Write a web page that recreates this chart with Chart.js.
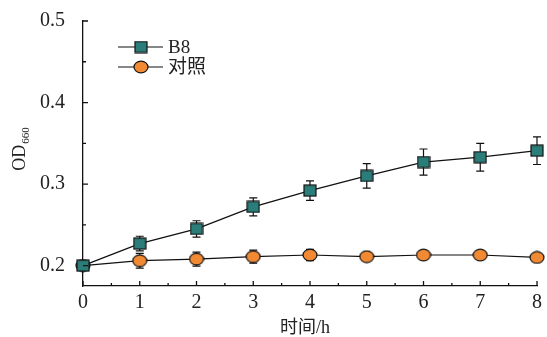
<!DOCTYPE html>
<html><head><meta charset="utf-8">
<script src="https://cdn.jsdelivr.net/npm/chart.js@4.4.1/dist/chart.umd.min.js"></script>
<style>html,body{margin:0;padding:0;background:#fff}#wrap{width:547px;height:337px}</style>
</head><body><div id="wrap"><canvas id="c"></canvas></div>
<script>
const times = [0,1,2,3,4,5,6,7,8];
const b8 = [0.200,0.227,0.245,0.272,0.292,0.310,0.327,0.333,0.341];
const b8Err = [0.003,0.009,0.010,0.011,0.012,0.015,0.016,0.017,0.017];
const ctrl = [0.200,0.206,0.208,0.211,0.213,0.211,0.213,0.213,0.210];
const ctrlErr = [0.003,0.009,0.0086,0.008,0.007,0.004,0.004,0.004,0.004];
const seriesNames = ['B8','对照'];
const xTickLabels = ['0','1','2','3','4','5','6','7','8'];
const yTickValues = [0.2,0.3,0.4,0.5];
const yTickLabels = ['0.2','0.3','0.4','0.5'];
const yMinorValues = [0.25,0.35,0.45];
const xMinorValues = [0.5,1.5,2.5,3.5,4.5,5.5,6.5,7.5];
const xTitle = '时间/h';
const yTitleMain = 'OD', yTitleSub = '660';

const TEAL = '#2a7d79', ORANGE = '#f28a33';
const SERIF = '"Liberation Serif","DejaVu Serif",serif';
const CJK = '"Liberation Serif","Noto Sans CJK SC",serif';

function makeSquare(){
  const c=document.createElement('canvas');c.width=14;c.height=13;
  const g=c.getContext('2d');g.fillStyle=TEAL;g.strokeStyle='#111';g.lineWidth=1.2;
  g.fillRect(1,1,12,11);g.strokeRect(1,1,12,11);return c;
}
function makeEllipse(){
  const c=document.createElement('canvas');c.width=16;c.height=14;
  const g=c.getContext('2d');g.fillStyle=ORANGE;g.strokeStyle='#111';g.lineWidth=1.2;
  g.beginPath();g.ellipse(8,7,7,5.8,0,0,Math.PI*2);g.fill();g.stroke();return c;
}
const sq=makeSquare(), el=makeEllipse();

const errPlugin={id:'err',beforeDatasetsDraw(chart){
  const {ctx,scales:{x,y}}=chart;
  ctx.save();ctx.strokeStyle='#111';ctx.lineWidth=1.2;
  [[b8,b8Err],[ctrl,ctrlErr]].forEach(([vals,errs])=>{
    vals.forEach((v,i)=>{
      const px=x.getPixelForValue(times[i]);
      const t=y.getPixelForValue(v+errs[i]), b=y.getPixelForValue(v-errs[i]);
      ctx.beginPath();ctx.moveTo(px,t);ctx.lineTo(px,b);
      ctx.moveTo(px-4,t);ctx.lineTo(px+4,t);ctx.moveTo(px-4,b);ctx.lineTo(px+4,b);ctx.stroke();
    });
  });
  ctx.restore();
}};
const decoPlugin={id:'deco',afterDraw(chart){
  const {ctx,scales:{x,y},chartArea:a}=chart;
  ctx.save();ctx.strokeStyle='#111';ctx.lineWidth=1.3;
  ctx.beginPath();
  yTickValues.forEach(v=>{const p=y.getPixelForValue(v);ctx.moveTo(a.left,p);ctx.lineTo(a.left+5,p);});
  yMinorValues.forEach(v=>{const p=y.getPixelForValue(v);ctx.moveTo(a.left,p);ctx.lineTo(a.left+3,p);});
  times.forEach(v=>{const p=x.getPixelForValue(v);ctx.moveTo(p,a.bottom);ctx.lineTo(p,a.bottom-5);});
  xMinorValues.forEach(v=>{const p=x.getPixelForValue(v);ctx.moveTo(p,a.bottom);ctx.lineTo(p,a.bottom-3);});
  ctx.stroke();
  // legend
  ctx.lineWidth=1.2;ctx.fillStyle='#222';ctx.textBaseline='middle';ctx.textAlign='left';
  [[47,sq],[67,el]].forEach(([yy,img],i)=>{
    ctx.beginPath();ctx.moveTo(118,yy);ctx.lineTo(163,yy);ctx.stroke();
    ctx.drawImage(img,141-img.width/2,yy-img.height/2);
    ctx.font='19px '+CJK;
    ctx.fillText(seriesNames[i],168,yy+1);
  });
  // titles
  ctx.font='18px '+CJK;ctx.textAlign='center';ctx.textBaseline='alphabetic';
  ctx.fillText(xTitle,305,333);
  ctx.translate(25,149);ctx.rotate(-Math.PI/2);
  ctx.textAlign='left';
  ctx.font='18px '+SERIF;const w=ctx.measureText(yTitleMain).width;
  ctx.font='11px '+SERIF;const sw=ctx.measureText(yTitleSub).width;
  const start=-(w+sw+1)/2;
  ctx.font='18px '+SERIF;ctx.fillText(yTitleMain,start,0);
  ctx.font='11px '+SERIF;ctx.fillText(yTitleSub,start+w+1,4);
  ctx.restore();
}};

new Chart(document.getElementById('c'),{
  type:'line',
  data:{datasets:[
    {label:seriesNames[0],data:times.map((t,i)=>({x:t,y:b8[i]})),borderColor:'#111',borderWidth:1.2,pointStyle:sq,pointRadius:7,tension:0},
    {label:seriesNames[1],data:times.map((t,i)=>({x:t,y:ctrl[i]})),borderColor:'#111',borderWidth:1.2,pointStyle:el,pointRadius:7,tension:0}
  ]},
  options:{
    responsive:true,maintainAspectRatio:false,animation:false,
    layout:{padding:{top:21,right:7,left:0,bottom:0}},
    clip:false,
    plugins:{legend:{display:false},tooltip:{enabled:false}},
    scales:{
      x:{type:'linear',min:0,max:8,
        afterBuildTicks:s=>{s.ticks=times.map(v=>({value:v}));},
        afterFit:s=>{s.height=51;},
        grid:{display:false,drawTicks:false},border:{display:true,color:'#111',width:1.3},
        ticks:{color:'#222',font:{family:SERIF,size:20},padding:5,autoSkip:false,maxRotation:0,callback:(v)=>xTickLabels[times.indexOf(v)]}},
      y:{type:'linear',min:0.175,max:0.5,
        afterBuildTicks:s=>{s.ticks=yTickValues.map(v=>({value:v}));},
        afterFit:s=>{s.width=83;},
        grid:{display:true,drawOnChartArea:false,drawTicks:true,tickLength:18,color:'rgba(0,0,0,0)'},border:{display:true,color:'#111',width:1.3},
        ticks:{color:'#222',font:{family:SERIF,size:20},padding:0,autoSkip:false,callback:(v)=>{const i=yTickValues.findIndex(t=>Math.abs(t-v)<1e-9);return i>=0?yTickLabels[i]:'';}}}
    }
  },
  plugins:[errPlugin,decoPlugin]
});
</script></body></html>
